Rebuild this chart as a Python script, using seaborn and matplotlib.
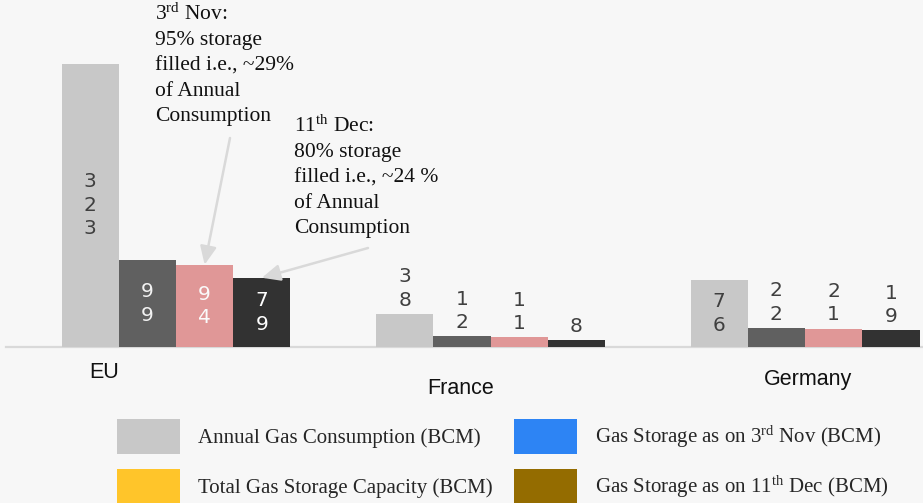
import matplotlib
matplotlib.use("Agg")
import matplotlib.pyplot as plt
import matplotlib.transforms as mtransforms
from matplotlib.patches import Patch
import seaborn as sns
import pandas as pd

# ---- data -------------------------------------------------------------
countries = ["EU", "France", "Germany"]
series = [
    "Annual Gas Consumption (BCM)",
    "Total Gas Storage Capacity (BCM)",
    "Gas Storage as on 3rd Nov (BCM)",
    "Gas Storage as on 11th Dec (BCM)",
]
annual_consumption = [323, 38, 76]
storage_capacity = [99, 12, 22]
storage_3_nov = [94, 11, 21]
storage_11_dec = [79, 8, 19]

legend_labels = [
    "Annual Gas Consumption (BCM)",
    "Total Gas Storage Capacity (BCM)",
    "Gas Storage as on 3$^{\\mathrm{rd}}$ Nov (BCM)",
    "Gas Storage as on 11$^{\\mathrm{th}}$ Dec (BCM)",
]
note_nov = "3$^{\\mathrm{rd}}$ Nov:\n95% storage\nfilled i.e., ~29%\nof Annual\nConsumption"
note_dec = "11$^{\\mathrm{th}}$ Dec:\n80% storage\nfilled i.e., ~24 %\nof Annual\nConsumption"

# ---- styles -----------------------------------------------------------
BG = "#f7f7f7"
bar_colors = ["#c8c8c8", "#606060", "#e09797", "#323232"]
label_colors = ["#3f3f3f", "#f2f2f2", "#fafafa", "#ffffff"]
legend_colors = ["#c8c8c8", "#ffc52a", "#2d84f4", "#946c00"]
ARROW = "#d9d9d9"

sns.set_style("white")
plt.rcParams["font.family"] = ["DejaVu Sans"]
plt.rcParams["mathtext.fontset"] = "custom"
plt.rcParams["mathtext.rm"] = "Liberation Serif"
plt.rcParams["mathtext.it"] = "Liberation Serif:italic"
plt.rcParams["mathtext.bf"] = "Liberation Serif:bold"

values_by_series = [annual_consumption, storage_capacity, storage_3_nov, storage_11_dec]
df = pd.DataFrame(
    [
        {"country": c, "series": s, "value": vals[i]}
        for s, vals in zip(series, values_by_series)
        for i, c in enumerate(countries)
    ]
)

W, H = 923, 503
fig = plt.figure(figsize=(W / 100, H / 100), dpi=100, facecolor=BG)
ax = fig.add_axes([6 / W, 156 / H, 917 / W, 347 / H], facecolor=BG)

sns.barplot(
    data=df, x="country", y="value", hue="series",
    order=countries, hue_order=series, palette=bar_colors,
    width=0.728, saturation=1, linewidth=0, errorbar=None,
    legend=False, ax=ax,
)

ax.set_xlim(-0.5405, 2.375)
ax.set_ylim(0, 396)
for side in ["top", "right", "left"]:
    ax.spines[side].set_visible(False)
ax.spines["bottom"].set_color("#d9d9d9")
ax.spines["bottom"].set_linewidth(1.6)
ax.spines["bottom"].set_zorder(0.5)
ax.set_xticks([])
ax.set_yticks([])
ax.set_xlabel("")
ax.set_ylabel("")

# ---- value labels (digits stacked, as in narrow text boxes) -----------
px_per_unit = ax.transData.transform((0, 1))[1] - ax.transData.transform((0, 0))[1]
line_px = 24
for j, cont in enumerate(ax.containers):
    for i, bar in enumerate(cont):
        v = values_by_series[j][i]
        cx = bar.get_x() + bar.get_width() / 2
        txt = "\n".join(str(v))
        block_px = len(str(v)) * line_px + 10
        if v * px_per_unit >= block_px:
            ax.text(cx, v / 2, txt, ha="center", va="center", fontsize=14.5,
                    linespacing=1.3, color=label_colors[j], family="DejaVu Sans")
        else:
            ax.annotate(txt, (cx, v), xytext=(0, 3), textcoords="offset points",
                        ha="center", va="bottom", fontsize=14.5, linespacing=1.3,
                        color="#404040", family="DejaVu Sans")

# ---- country labels ---------------------------------------------------
cat_offsets = [(-72, -25), (-30, -42), (3, -33)]
for i, (name, (dx, dy)) in enumerate(zip(countries, cat_offsets)):
    tr = ax.transData + mtransforms.ScaledTranslation(dx / 100, dy / 100, fig.dpi_scale_trans)
    ax.text(i, 0, name, transform=tr, ha="center", va="center", fontsize=15.5,
            family="Liberation Sans", color="#111111", clip_on=False)

# ---- call-outs --------------------------------------------------------
fig.text(155 / W, 1 - 4 / H, note_nov, ha="left", va="top", fontsize=15.5,
         family="Liberation Serif", linespacing=1.44, color="#111111")
fig.text(294 / W, 1 - 116 / H, note_dec, ha="left", va="top", fontsize=15.5,
         family="Liberation Serif", linespacing=1.44, color="#111111")

arrow_kw = dict(arrowstyle="-|>,head_length=1.0,head_width=0.45", color=ARROW,
                lw=1.8, mutation_scale=11, shrinkA=0, shrinkB=0)
pink_eu = ax.containers[2][0]
dark_eu = ax.containers[3][0]
ax.annotate("", xy=(pink_eu.get_x() + pink_eu.get_width() / 2, storage_3_nov[0]),
            xytext=(230, H - 138), textcoords="figure pixels", arrowprops=arrow_kw)
ax.annotate("", xy=(dark_eu.get_x() + dark_eu.get_width() / 2, storage_11_dec[0]),
            xytext=(368, H - 248), textcoords="figure pixels", arrowprops=arrow_kw)

# ---- legend -----------------------------------------------------------
handles = [Patch(facecolor=c, edgecolor="none") for c in legend_colors]
fig.legend(
    handles, legend_labels, ncol=2, loc="upper left",
    bbox_to_anchor=(117 / W, 1 - 419 / H), frameon=False,
    borderpad=0, borderaxespad=0, handlelength=3.02, handleheight=2.21,
    handletextpad=0.85, labelspacing=0.72, columnspacing=1.05,
    prop={"family": "Liberation Serif", "size": 15},
)

fig.savefig("out.png", dpi=100, facecolor=BG)
